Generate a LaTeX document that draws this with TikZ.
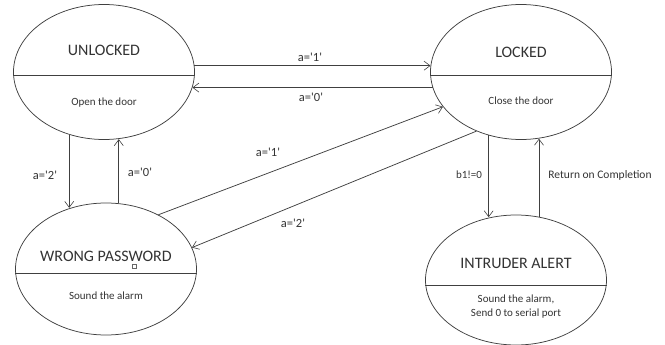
\documentclass[tikz,border=0pt]{standalone}
\usepackage{fontspec}
\setmainfont{Carlito}
% a second family without TeX ligatures keeps the straight quotes in the labels
\newfontfamily\plainfont{Carlito}
\usetikzlibrary{shapes.geometric,arrows.meta}
\begin{document}
\begin{tikzpicture}[x=1pt,y=-1pt,
  ink/.style={draw=black!75, line width=0.75pt},
  statebox/.style={ink, ellipse, minimum width=181pt, inner sep=0pt},
  title/.style={text=black!80, font=\fontsize{16}{18}\selectfont},
  body/.style={text=black!80, font=\fontsize{11}{14}\selectfont, align=center},
  lbl/.style={text=black!80, font=\plainfont\fontsize{12.5}{14}\selectfont},
  trans/.style={ink, -{Straight Barb[length=6pt,width=9pt,line width=0.6pt]}},
  divider/.style={draw=black!75, line width=0.9pt}]
\useasboundingbox (0,0) rectangle (665,345);

% states
\node[statebox, minimum height=135pt] (u) at (104,72) {};
\node[statebox, minimum height=135pt] (l) at (521,72) {};
\node[statebox, minimum height=132pt] (w) at (106,269) {};
\node[statebox, minimum height=130pt] (i) at (516,280) {};

% compartments
\draw[divider] ([yshift=-3pt]u.west) -- ([yshift=-3pt]u.east);
\draw[divider] ([yshift=-3pt]l.west) -- ([yshift=-3pt]l.east);
\draw[divider] ([yshift=-4pt]w.west) -- ([yshift=-4pt]w.east);
\draw[divider] ([yshift=-5pt]i.west) -- ([yshift=-5pt]i.east);

% state texts
\node[title] (ut) at (104,50) {UNLOCKED};
\node[body] (ub) at (104,103) {Open the door};
\node[title] (lt) at (521,52) {LOCKED};
\node[body] (lb) at (521,101) {Close the door};
\node[title] (wt) at (106,256) {WRONG PASSWORD};
\node[body] (wb) at (106,296) {Sound the alarm};
\node[title] (it) at (516,263) {INTRUDER ALERT};
\node[body] (ib) at (516,307) {Sound the alarm,\\Send 0 to serial port};
\node[draw=black!60, line width=0.5pt, minimum size=3.5pt, inner sep=0pt] (mk) at (134,266) {};

% transitions
\draw[trans] (u.4) -- (l.176);
\draw[trans] (l.190) -- (u.350);
\draw[trans] (u.241.5) -- (u.241.5 |- w.120.7);
\draw[trans] (w.79.6) -- (w.79.6 |- u.281.9);
\draw[trans] (w.46.1) -- (l.204.2);
\draw[trans] (l.233.3) -- (w.14.35);
\draw[trans] (l.243.9) -- (l.243.9 |- i.112.7);
\draw[trans] (i.70.75) -- (i.70.75 |- l.284.4);

% transition labels
\node[lbl] (t1) at (310,57) {a='1'};
\node[lbl] (t2) at (311,97) {a='0'};
\node[lbl] (t3) at (45,175) {a='2'};
\node[lbl] (t4) at (140,172) {a='0'};
\node[lbl] (t5) at (268,152) {a='1'};
\node[lbl] (t6) at (293,223) {a='2'};
\node[lbl, font=\plainfont\fontsize{11}{13}\selectfont] (t7) at (469,175) {b1!=0};
\node[lbl, font=\plainfont\fontsize{11.5}{13}\selectfont] (t8) at (600,175) {Return on Completion};
\end{tikzpicture}
\end{document}
